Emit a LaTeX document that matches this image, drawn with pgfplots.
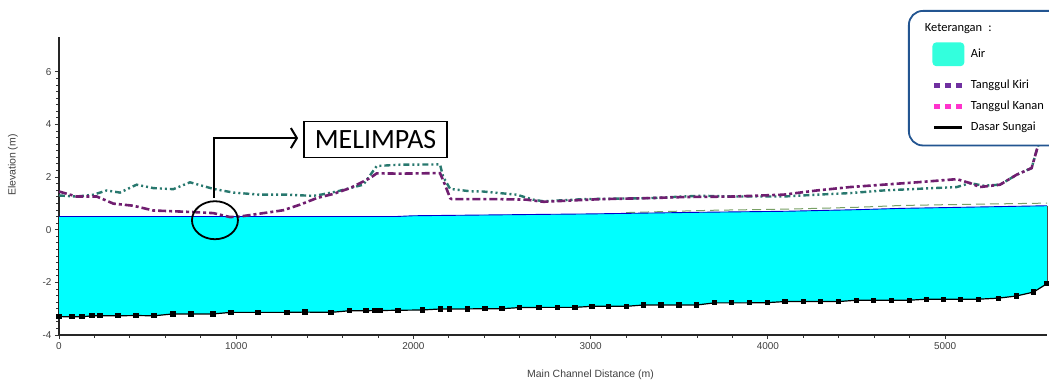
\documentclass[border=0pt]{standalone}
\usepackage{pgfplots}
\pgfplotsset{compat=1.18}
\usepackage{fontspec}
\setmainfont{Liberation Sans}
\newfontfamily\calibri{Carlito}
\usetikzlibrary{arrows.meta}
\definecolor{kiri}{RGB}{112,30,112}
\definecolor{kanan}{RGB}{40,120,110}
\definecolor{air}{RGB}{0,255,255}
\definecolor{legair}{RGB}{51,255,221}
\definecolor{legkiri}{RGB}{112,48,160}
\definecolor{legkanan}{RGB}{255,51,204}
\definecolor{legbox}{RGB}{35,85,145}
\definecolor{egl}{RGB}{120,160,100}

\pgfplotstableread{
x y
0 -3.30
73 -3.31
130 -3.31
186 -3.27
231 -3.27
333 -3.27
435 -3.26
536 -3.27
643 -3.20
745 -3.20
869 -3.20
971 -3.14
1123 -3.14
1287 -3.14
1388 -3.13
1535 -3.14
1637 -3.08
1732 -3.08
1778 -3.07
1811 -3.07
1913 -3.06
2049 -3.05
2154 -3.01
2203 -3.01
2304 -3.01
2404 -3.00
2500 -3.00
2597 -2.96
2709 -2.95
2812 -2.95
2912 -2.95
3008 -2.91
3100 -2.91
3204 -2.91
3297 -2.86
3397 -2.86
3499 -2.86
3599 -2.86
3698 -2.78
3796 -2.78
3896 -2.78
3997 -2.77
4097 -2.73
4200 -2.73
4298 -2.73
4398 -2.73
4498 -2.68
4595 -2.68
4699 -2.68
4798 -2.68
4893 -2.64
4990 -2.64
5088 -2.64
5188 -2.64
5301 -2.60
5401 -2.52
5499 -2.37
5575 -2.05
}\bed

\pgfplotstableread{
x y
0 1.45
99 1.26
213 1.26
307 0.99
420 0.91
532 0.73
645 0.70
758 0.67
871 0.63
965 0.48
1021 0.50
1266 0.74
1360 0.95
1454 1.20
1548 1.36
1642 1.58
1755 1.96
1793 2.14
1924 2.13
2150 2.15
2178 1.71
2207 1.20
2216 1.16
2489 1.16
2639 1.14
2733 1.06
3053 1.16
3335 1.20
3523 1.24
3805 1.26
4087 1.33
4276 1.49
4464 1.62
4651 1.71
4840 1.80
5066 1.92
5141 1.77
5197 1.62
5310 1.71
5404 2.09
5488 2.34
5516 3.00
5535 3.40
}\kiri

\pgfplotstableread{
x y
0 1.30
99 1.26
194 1.33
269 1.49
344 1.41
438 1.71
532 1.58
645 1.54
739 1.80
871 1.55
984 1.41
1134 1.33
1285 1.33
1417 1.29
1454 1.30
1567 1.45
1717 1.71
1793 2.42
1924 2.47
2150 2.48
2167 2.02
2207 1.55
2320 1.46
2393 1.45
2583 1.33
2676 1.14
2733 1.08
2958 1.16
3335 1.20
3617 1.29
3805 1.26
4087 1.26
4276 1.33
4464 1.39
4651 1.49
4934 1.58
5066 1.62
5141 1.77
5216 1.67
5310 1.71
5404 2.09
5488 2.34
5516 3.00
5535 3.40
}\kanan

\pgfplotstableread{
x y
0 0.50
1900 0.50
2000 0.53
2700 0.58
3000 0.60
3600 0.66
4100 0.70
4500 0.76
4750 0.81
5000 0.84
5575 0.91
}\surface

\pgfplotstableread{
x y
3200 0.65
3700 0.74
4100 0.78
4500 0.85
4750 0.92
5000 0.95
5575 1.01
}\egl

\begin{document}
\begin{tikzpicture}
\path[use as bounding box] (0,0) rectangle (1049bp,387bp);
\begin{axis}[
  at={(59bp,52bp)}, anchor=south west,
  scale only axis, width=988bp, height=298bp,
  xmin=0, xmax=5575, ymin=-4, ymax=7.32,
  axis x line*=bottom, axis y line*=left,
  axis line style={-, line width=1.1bp, black!85},
  xtick={0,1000,2000,3000,4000,5000},
  ytick={-4,-2,0,2,4,6},
  minor x tick num=4, minor y tick num=7,
  tick align=outside,
  major tick length=4bp, minor tick length=2.5bp,
  tick style={black!80, line width=0.8bp},
  xticklabel style={/pgf/number format/1000 sep={}},
  /pgf/number format/assume math mode=true,
  tick label style={font=\fontsize{10}{12}\selectfont, text=black!75},
  xlabel={Main Channel Distance (m)},
  ylabel={Elevation (m)},
  label style={font=\fontsize{10.5}{12}\selectfont, text=black!75},
  xlabel style={at={(axis description cs:0.538,-0.134)}, anchor=center},
  ylabel style={at={(axis description cs:-0.0466,0.57)}, anchor=center},
  legend style={at={(axis description cs:0.8593,1.0906)}, anchor=north west,
    draw=legbox, line width=1.8bp, rounded corners=14bp, fill=white,
    font=\calibri\fontsize{12.5}{14}\selectfont,
    inner xsep=23bp, inner ysep=11bp, row sep=7bp, column sep=3bp,
    cells={anchor=west}},
  legend cell align=left,
  clip=false,
]
% water area
\addplot[fill=air, draw=none, forget plot] coordinates {
(0,0.50) (1900,0.50) (2000,0.53) (2700,0.58) (3000,0.60) (3600,0.66) (4100,0.70) (4500,0.76) (4750,0.81) (5000,0.84) (5575,0.91)
(5575,-2.05) (5499,-2.37) (5401,-2.52) (5301,-2.60) (5188,-2.64) (4893,-2.64) (4798,-2.68) (4498,-2.68) (4398,-2.73) (4097,-2.73) (3997,-2.77) (3698,-2.78) (3599,-2.86) (3297,-2.86) (3204,-2.91) (3008,-2.91) (2912,-2.95) (2597,-2.96) (2500,-3.00) (2154,-3.01) (2049,-3.05) (1637,-3.08) (1535,-3.14) (971,-3.14) (869,-3.20) (643,-3.20) (536,-3.27) (186,-3.27) (130,-3.31) (0,-3.30)
} --cycle;
\addplot[egl, line width=1bp, dash pattern=on 9bp off 5bp, forget plot] table {\egl};
\addplot[blue!80!black, line width=0.9bp, forget plot] table {\surface};
\addplot[black!70, line width=0.8bp, forget plot] coordinates {(5575,-2.05) (5575,0.91)};
\addplot[kanan, line width=2.4bp, dash pattern=on 6bp off 3bp on 2bp off 3bp on 2bp off 3bp, forget plot] table {\kanan};
\addplot[kiri, line width=2.6bp, dash pattern=on 8bp off 3bp on 3bp off 3bp, forget plot] table {\kiri};
\addplot[black, line width=1.2bp, mark=square*, mark size=2bp, forget plot] table {\bed};

% legend
\addlegendimage{legend image code/.code={}}
\addlegendentry{\hspace*{-46bp}Keterangan\enspace:}
\addlegendimage{legend image code/.code={\fill[legair, rounded corners=3bp] (0bp,-11bp) rectangle (30bp,11bp); \path (0bp,-16bp);}}
\addlegendentry{Air}
\addlegendimage{legend image code/.code={\draw[legkiri, line width=5bp, dash pattern=on 5.5bp off 5.5bp, sharp corners] (1bp,0) -- (30bp,0);}}
\addlegendentry{Tanggul Kiri}
\addlegendimage{legend image code/.code={\draw[legkanan, line width=5bp, dash pattern=on 5.5bp off 5.5bp, sharp corners] (1bp,0) -- (30bp,0);}}
\addlegendentry{Tanggul Kanan}
\addlegendimage{legend image code/.code={\draw[black, line width=2.8bp, sharp corners] (1bp,0) -- (29bp,0);}}
\addlegendentry{Dasar Sungai}

% annotation
\draw[black, line width=1.8bp] (axis cs:880,0.36) ellipse [x radius=23bp, y radius=19bp];
\draw[black, line width=2bp, -{Straight Barb[length=6bp, width=20bp, line width=2bp]}]
  (axis cs:876,1.21) -- (axis cs:876,3.48) -- (axis cs:1349,3.48);
\node[draw, line width=1.1bp, minimum width=143bp, minimum height=36bp, inner sep=0pt,
  font=\calibri\fontsize{28}{30}\selectfont] at (axis cs:1786,3.42) {MELIMPAS};
\end{axis}
\end{tikzpicture}
\end{document}
